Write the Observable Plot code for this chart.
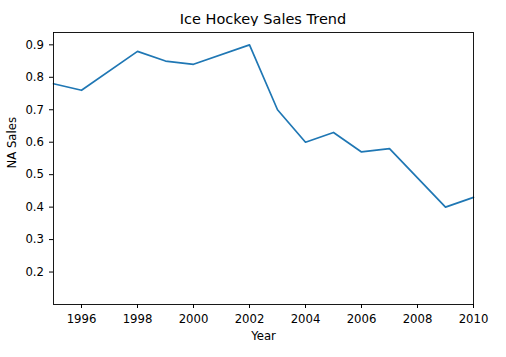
<!DOCTYPE html>
<html>
<head>
<meta charset="utf-8">
<script src="https://cdn.jsdelivr.net/npm/d3@7"></script>
<script src="https://cdn.jsdelivr.net/npm/@observablehq/plot@0.6"></script>
<style>
  body { margin: 0; background: #fff; font-family: "DejaVu Sans", sans-serif; }
  #wrap { position: relative; width: 506px; height: 357px; }
  #title { position: absolute; left: 53px; width: 420px; top: 11px; text-align: center; font-size: 14.5px; color: #000; line-height: 17px; }
  #chart { position: absolute; left: 0; top: 26px; }
</style>
</head>
<body>
<div id="wrap">
  <div id="title">Ice Hockey Sales Trend</div>
  <div id="chart"></div>
</div>
<script>
const years = [1995, 1996, 1998, 1999, 2000, 2002, 2003, 2004, 2005, 2006, 2007, 2009, 2010];
const naSales = [0.78, 0.76, 0.88, 0.85, 0.84, 0.90, 0.70, 0.60, 0.63, 0.57, 0.58, 0.40, 0.43];
const xTicks = [1996, 1998, 2000, 2002, 2004, 2006, 2008, 2010];
const yTicks = [0.2, 0.3, 0.4, 0.5, 0.6, 0.7, 0.8, 0.9];

const data = years.map((y, i) => ({year: y, sales: naSales[i]}));

const plot = Plot.plot({
  width: 506,
  height: 331,
  marginLeft: 53,
  marginRight: 33,
  marginTop: 6,
  marginBottom: 53,
  style: {fontFamily: "DejaVu Sans, sans-serif", fontSize: "11.7px", color: "#000", background: "#fff"},
  x: {domain: [1995, 2010]},
  y: {domain: [0.1, 0.938]},
  marks: [
    Plot.axisX({ticks: xTicks, tickFormat: d => String(d), tickSize: 4, tickPadding: 6, label: null, stroke: "#000", fontSize: 11.7}),
    Plot.axisY({ticks: yTicks, tickFormat: d => d.toFixed(1), tickSize: 4, tickPadding: 5.5, label: null, stroke: "#000", fontSize: 11.7}),
    Plot.line(data, {x: "year", y: "sales", stroke: "#1f77b4", strokeWidth: 1.7}),
    Plot.frame({stroke: "#000", strokeWidth: 0.9}),
    Plot.text(["NA Sales"], {frameAnchor: "left", rotate: -90, dx: -41, fontSize: 11.7, fill: "#000"}),
    Plot.text(["Year"], {frameAnchor: "bottom", dy: 35, fontSize: 11.7, fill: "#000"})
  ]
});
document.getElementById("chart").appendChild(plot);
</script>
</body>
</html>
